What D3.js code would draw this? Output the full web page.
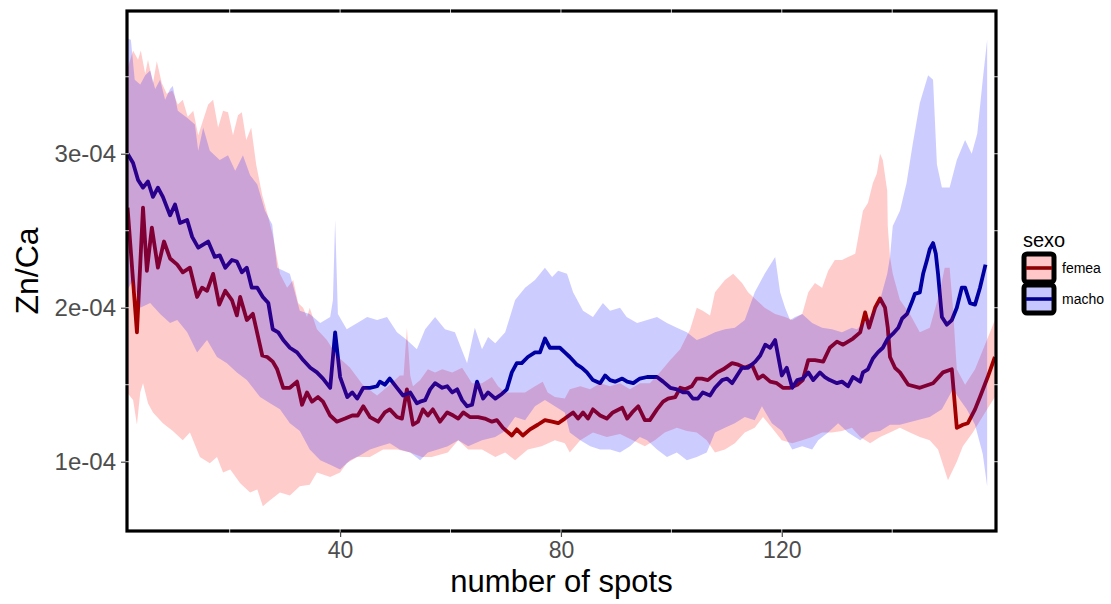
<!DOCTYPE html>
<html><head><meta charset="utf-8">
<script src="https://cdn.jsdelivr.net/npm/d3@7"></script>
<style>body{margin:0;background:#fff}text{font-family:"Liberation Sans",Arial,sans-serif}</style>
</head><body>
<svg id="c" width="1111" height="604"></svg>
<script>
// values in units of 1e-4 (Zn/Ca)
const UNIT = 1e-4;
const seriesNames = ["femea", "macho"];
const xTicks = [40, 80, 120];
const yTicks = [1, 2, 3];
const yTickLabels = ["1e-04", "2e-04", "3e-04"];

// mean lines
const femeaX = [1.5,3.2,4.3,5.0,5.9,7.0,8.1,9.2,10.5,11.5,12.8,14.1,15.0,15.9,17.0,18.1,19.2,20.4,21.3,21.9,23.1,24.2,25.9,26.8,27.8,28.6,29.7,30.9,32.2,33.1,34.0,34.9,36.0,36.9,38.2,39.4,40.9,42.2,43.2,44.2,45.4,46.9,48.1,49.0,50.3,51.2,52.1,53.2,54.1,55.0,55.9,56.8,58.1,59.4,60.5,61.4,62.3,63.5,65.0,66.2,67.5,68.4,69.5,71.1,72.0,73.1,74.4,75.8,77.1,78.4,79.5,80.7,82.2,83.1,84.0,84.9,85.8,87.1,88.3,89.4,91.1,92.0,92.9,94.0,95.2,96.1,97.4,98.5,99.4,100.7,101.6,102.5,103.7,104.6,105.5,106.6,108.3,109.4,111.0,112.1,113.3,114.6,115.7,116.6,117.9,119.1,120.2,121.5,122.8,123.8,124.8,126.0,127.5,128.7,130.0,131.1,132.0,132.9,134.2,135.1,135.8,136.9,137.8,138.7,139.2,139.6,140.5,141.4,142.9,145.0,147.4,149.2,150.8,151.7,152.8,153.7,155.0,155.9,157.3,158.6];
const femeaY = [2.65,1.84,2.65,2.24,2.52,2.26,2.43,2.32,2.28,2.23,2.26,2.07,2.13,2.11,2.22,2.02,2.11,2.05,1.95,2.07,1.92,1.96,1.69,1.68,1.65,1.60,1.48,1.48,1.52,1.37,1.45,1.39,1.42,1.39,1.30,1.26,1.28,1.30,1.30,1.36,1.29,1.26,1.32,1.34,1.29,1.28,1.47,1.24,1.26,1.34,1.30,1.34,1.26,1.32,1.30,1.28,1.32,1.29,1.29,1.28,1.26,1.27,1.22,1.17,1.21,1.17,1.21,1.24,1.27,1.26,1.25,1.28,1.32,1.28,1.32,1.28,1.34,1.30,1.28,1.32,1.35,1.28,1.32,1.36,1.27,1.27,1.34,1.39,1.41,1.42,1.48,1.47,1.49,1.54,1.54,1.53,1.58,1.60,1.64,1.63,1.61,1.63,1.54,1.56,1.52,1.51,1.48,1.48,1.50,1.53,1.66,1.66,1.65,1.74,1.78,1.76,1.78,1.80,1.84,1.97,1.87,2.00,2.06,2.00,1.87,1.68,1.61,1.58,1.50,1.48,1.51,1.58,1.60,1.22,1.24,1.25,1.34,1.42,1.55,1.68];

const machoX = [1.5,2.5,3.4,4.3,5.2,6.1,7.0,7.9,9.2,10.1,11.0,12.3,13.2,14.3,16.1,17.3,18.2,19.2,20.4,21.3,22.2,23.1,24.0,25.0,26.0,27.0,27.8,28.8,29.7,30.9,32.2,33.3,34.6,35.8,36.9,38.2,39.1,40.0,41.3,42.2,43.1,44.2,45.4,46.7,47.2,48.1,49.0,50.3,51.4,52.7,53.9,54.5,55.4,56.3,57.2,58.5,59.4,60.3,61.2,62.1,63.0,63.9,64.8,65.9,66.8,68.1,69.3,70.2,71.1,72.0,72.9,74.0,75.3,76.2,77.1,78.0,78.9,79.8,80.7,81.6,82.9,83.8,84.7,85.8,87.1,88.0,88.9,89.8,91.1,92.0,93.1,94.3,95.6,97.4,98.5,99.8,101.0,102.1,103.0,103.9,104.8,105.7,107.0,107.9,109.2,110.1,111.0,111.9,112.8,113.9,115.2,116.1,117.0,117.9,118.8,120.0,120.9,121.9,122.8,123.8,124.8,125.7,126.9,127.8,128.7,130.0,130.9,132.0,132.9,134.2,134.7,135.6,136.5,137.4,138.3,139.2,140.1,141.1,141.8,142.7,143.6,144.1,145.0,145.6,146.3,146.8,147.4,147.9,148.3,149.0,149.9,150.8,151.7,152.6,153.2,154.1,155.0,155.9,156.9];
const machoY = [3.00,2.94,2.83,2.78,2.82,2.72,2.78,2.72,2.60,2.67,2.55,2.57,2.46,2.39,2.43,2.33,2.34,2.26,2.31,2.30,2.23,2.26,2.13,2.13,2.07,2.03,1.86,1.84,1.79,1.74,1.71,1.66,1.61,1.58,1.54,1.48,1.84,1.55,1.42,1.45,1.41,1.48,1.48,1.49,1.52,1.50,1.54,1.48,1.43,1.45,1.38,1.39,1.40,1.47,1.51,1.48,1.49,1.45,1.47,1.40,1.36,1.37,1.52,1.41,1.45,1.41,1.44,1.47,1.58,1.64,1.64,1.68,1.71,1.71,1.80,1.74,1.74,1.74,1.71,1.68,1.63,1.61,1.58,1.53,1.51,1.56,1.53,1.52,1.54,1.52,1.51,1.54,1.55,1.55,1.52,1.48,1.47,1.45,1.45,1.41,1.41,1.45,1.43,1.48,1.53,1.54,1.51,1.56,1.61,1.61,1.65,1.69,1.76,1.74,1.79,1.56,1.61,1.48,1.53,1.54,1.58,1.53,1.58,1.55,1.53,1.51,1.52,1.49,1.55,1.52,1.58,1.60,1.67,1.71,1.74,1.80,1.83,1.87,1.93,1.96,2.04,2.09,2.10,2.22,2.31,2.38,2.42,2.35,2.22,1.94,1.89,1.92,2.00,2.13,2.13,2.03,2.02,2.13,2.28];

// ribbon bounds
const femeaUpX = [1.4,2.5,3.4,3.9,4.7,5.2,6.1,6.8,7.7,8.6,9.6,10.6,11.5,12.4,13.4,14.3,15.2,16.1,17.0,17.9,18.8,19.7,20.6,21.5,22.2,23.0,23.9,24.8,25.9,26.9,27.8,29.1,30.4,31.5,32.4,33.3,34.0,34.5,35.8,37.6,39.4,41.8,44.1,46.7,49.0,50.8,51.5,52.1,52.7,53.2,54.5,55.9,57.2,58.5,60.3,62.1,63.9,65.7,67.5,68.6,69.9,71.7,73.5,75.3,76.7,77.6,78.9,80.7,81.6,83.5,85.3,87.1,88.9,90.7,92.5,94.3,96.1,97.9,99.8,101.6,103.4,104.6,105.7,107.0,107.9,109.7,111.2,112.8,113.9,115.1,116.9,118.8,120.6,121.9,123.7,124.8,126.0,127.3,128.4,129.6,130.9,132.0,133.3,134.7,135.6,136.5,137.2,137.8,138.3,139.1,139.2,139.6,140.1,141.4,143.2,145.0,146.8,148.6,149.5,150.4,151.0,151.7,153.2,155.0,156.8,158.6];
const femeaUpY = [3.54,3.67,3.61,3.67,3.52,3.61,3.46,3.60,3.46,3.39,3.41,3.32,3.35,3.24,3.28,3.12,3.22,3.32,3.35,3.17,3.28,3.27,3.12,3.25,3.27,3.09,3.17,2.93,2.73,2.60,2.47,2.22,2.13,2.18,2.03,2.00,1.94,2.00,1.86,1.79,1.69,1.61,1.50,1.43,1.50,1.56,1.56,1.87,1.56,1.49,1.53,1.60,1.58,1.60,1.58,1.61,1.51,1.51,1.55,1.49,1.45,1.45,1.45,1.49,1.52,1.45,1.42,1.41,1.47,1.49,1.47,1.51,1.49,1.51,1.47,1.51,1.51,1.58,1.66,1.73,1.86,2.00,1.98,1.95,2.10,2.18,2.22,2.16,2.10,2.06,2.00,1.96,1.94,1.92,1.96,2.10,2.16,2.13,2.24,2.31,2.31,2.33,2.35,2.63,2.68,2.81,2.87,3.00,2.96,2.76,2.53,2.33,2.22,2.05,1.96,1.84,1.87,2.10,2.26,2.26,2.00,1.60,1.50,1.60,1.76,1.92];
const femeaLoX = [1.4,2.5,3.2,3.8,4.3,5.2,6.1,7.9,9.7,11.5,12.8,14.6,16.4,17.7,18.8,20.1,21.9,23.7,25.0,26.0,27.3,29.1,30.9,32.7,34.5,35.8,38.2,40.0,41.2,43.1,45.4,47.8,50.3,52.7,54.8,56.6,59.5,61.4,63.2,65.7,68.1,69.9,71.7,74.0,76.5,78.9,80.7,81.6,83.5,85.8,88.3,90.7,93.0,95.2,97.0,98.8,101.0,102.8,104.6,106.4,107.9,109.7,111.5,113.3,115.1,116.6,118.2,120.0,121.9,123.7,125.5,127.3,129.1,130.9,132.7,134.2,136.0,137.8,139.6,141.4,143.2,145.0,146.8,148.3,150.1,151.7,152.8,154.6,157.2,158.6];
const femeaLoY = [1.45,1.40,1.24,1.45,1.51,1.38,1.32,1.25,1.20,1.14,1.19,1.03,0.99,1.03,0.93,0.95,0.86,0.80,0.82,0.71,0.75,0.80,0.78,0.84,0.85,0.93,0.90,0.93,0.99,1.03,1.03,1.08,1.08,1.06,1.03,1.03,1.06,1.14,1.08,1.08,1.03,1.06,1.01,1.08,1.10,1.14,1.12,1.06,1.14,1.19,1.16,1.18,1.14,1.10,1.14,1.19,1.22,1.20,1.19,1.14,1.06,1.08,1.12,1.19,1.22,1.29,1.22,1.14,1.12,1.14,1.16,1.19,1.19,1.20,1.22,1.16,1.12,1.16,1.19,1.22,1.19,1.16,1.14,1.08,0.88,1.00,1.10,1.19,1.34,1.42];

const machoUpX = [1.4,2.1,2.8,3.8,4.7,5.6,6.5,7.4,8.3,9.2,9.7,10.6,12.4,13.7,14.3,15.2,16.4,18.2,19.7,21.0,22.4,23.7,25.0,26.4,27.7,28.6,30.9,32.7,34.5,36.4,38.2,38.7,39.1,39.6,41.2,43.1,44.9,46.7,48.5,50.3,52.1,53.9,55.4,57.2,59.0,60.8,63.0,64.4,65.7,66.8,68.1,69.9,71.7,73.5,75.3,77.1,78.4,79.5,81.1,82.2,84.0,85.8,87.6,88.9,90.7,91.9,93.8,95.6,97.4,99.2,101.0,102.8,104.6,106.1,107.9,109.7,111.5,113.3,115.1,116.9,118.8,119.7,120.6,121.5,122.4,123.7,125.5,127.3,129.1,130.9,132.7,133.6,136.0,137.8,139.1,139.6,140.1,141.4,142.6,143.7,145.0,146.5,147.4,148.1,149.0,150.4,151.7,153.2,154.4,155.4,156.4,157.2];
const machoUpY = [3.75,3.74,3.48,3.45,3.51,3.54,3.42,3.48,3.35,3.42,3.44,3.28,3.23,3.19,3.02,3.17,3.02,2.96,2.99,2.89,2.99,2.86,2.80,2.63,2.54,2.26,2.22,1.98,1.96,1.90,1.94,2.05,2.57,1.96,1.86,1.90,1.94,1.92,1.94,1.84,1.79,1.73,1.86,1.94,1.86,1.84,1.64,1.87,1.73,1.81,1.77,1.84,2.05,2.13,2.18,2.26,2.20,2.24,2.22,2.10,1.98,1.94,2.03,1.98,2.00,1.94,1.90,1.92,1.94,1.90,1.87,1.84,1.79,1.81,1.84,1.86,1.87,1.92,2.10,2.22,2.33,2.10,2.00,1.92,1.94,1.96,1.90,1.87,1.86,1.84,1.87,1.86,1.94,2.05,2.22,2.33,2.53,2.63,2.81,3.06,3.33,3.51,3.48,2.93,2.78,2.78,2.96,3.09,3.00,3.13,3.48,3.74];
const machoLoX = [1.4,2.5,3.8,5.6,7.4,9.2,10.5,12.3,14.1,15.9,17.7,19.5,21.3,23.1,25.5,27.3,29.1,30.9,32.7,34.5,36.4,38.2,40.0,41.8,43.6,45.4,47.2,49.0,50.8,52.7,54.5,55.9,57.7,59.5,61.4,63.2,65.7,68.1,69.9,71.7,73.5,75.3,77.1,78.9,80.7,81.6,83.5,85.3,87.1,88.9,90.7,92.5,94.3,95.6,97.4,99.2,101.0,102.8,104.6,106.4,107.9,109.7,111.5,113.3,115.1,116.4,118.2,120.0,121.9,123.7,125.5,126.6,128.4,130.2,132.0,134.2,136.0,137.8,139.6,141.4,144.5,146.8,149.0,151.0,152.3,153.5,155.0,156.4,157.2];
const machoLoY = [2.11,2.18,2.00,2.03,1.96,1.90,1.92,1.84,1.71,1.79,1.68,1.64,1.58,1.53,1.42,1.38,1.34,1.25,1.20,1.08,1.01,0.98,0.95,1.01,1.04,1.08,1.10,1.12,1.08,1.06,1.01,1.06,1.08,1.10,1.14,1.10,1.14,1.16,1.20,1.29,1.27,1.36,1.40,1.36,1.32,1.19,1.14,1.10,1.08,1.08,1.06,1.10,1.16,1.14,1.08,1.03,1.06,1.01,1.03,1.06,1.19,1.22,1.25,1.29,1.27,1.36,1.25,1.20,1.08,1.10,1.08,1.14,1.19,1.25,1.19,1.14,1.19,1.20,1.24,1.24,1.27,1.29,1.34,1.47,1.40,1.34,1.24,1.05,0.84];

const lineColors = {femea: "#8B0000", macho: "#00008B"};
const fillColors = {femea: "#FF0000", macho: "#0000FF"};

const svg = d3.select("#c");
const L = 127, R = 996, T = 11, B = 531;
const x = d3.scaleLinear().domain([1.4, 158.8]).range([L, R]);
const y = d3.scaleLinear().domain([0.55 * UNIT, 3.927 * UNIT]).range([B, T]);

svg.append("defs").append("clipPath").attr("id", "clip")
  .append("rect").attr("x", L).attr("y", T).attr("width", R - L).attr("height", B - T);

const pts = (xs, ys) => xs.map((v, i) => [v, ys[i] * UNIT]);
const line = d3.line().x(d => x(d[0])).y(d => y(d[1]));

const series = {
  femea: {line: pts(femeaX, femeaY), up: pts(femeaUpX, femeaUpY), lo: pts(femeaLoX, femeaLoY)},
  macho: {line: pts(machoX, machoY), up: pts(machoUpX, machoUpY), lo: pts(machoLoX, machoLoY)}
};

const g = svg.append("g").attr("clip-path", "url(#clip)");
// lines first, ribbons (translucent) over them
seriesNames.forEach(s => {
  g.append("path").attr("d", line(series[s].line)).attr("fill", "none")
    .attr("stroke", lineColors[s]).attr("stroke-width", 3.8).attr("stroke-linejoin", "round");
});
seriesNames.forEach(s => {
  const poly = series[s].up.concat(series[s].lo.slice().reverse());
  g.append("path").attr("d", line(poly) + "Z").attr("fill", fillColors[s]).attr("fill-opacity", 0.2);
});

// panel border
svg.append("rect").attr("x", L).attr("y", T).attr("width", R - L).attr("height", B - T)
  .attr("fill", "none").attr("stroke", "#000").attr("stroke-width", 3.2);

// faint grid notches on border
const gx = [20, 40, 60, 80, 100, 120, 140];
const gy = [1, 1.5, 2, 2.5, 3, 3.5];
gx.forEach(v => {
  [T, B].forEach(yy => svg.append("line").attr("x1", x(v)).attr("x2", x(v)).attr("y1", yy - 2).attr("y2", yy + 2)
    .attr("stroke", "#fff").attr("stroke-width", 1).attr("opacity", 0.8));
});
gy.forEach(v => {
  [L, R].forEach(xx => svg.append("line").attr("y1", y(v * UNIT)).attr("y2", y(v * UNIT)).attr("x1", xx - 2).attr("x2", xx + 2)
    .attr("stroke", "#fff").attr("stroke-width", 1).attr("opacity", 0.8));
});

// axes
const xAxis = d3.axisBottom(x).tickValues(xTicks).tickSize(5).tickPadding(5);
const xg = svg.append("g").attr("transform", `translate(0,${B + 1})`).call(xAxis);
xg.select(".domain").remove();
xg.selectAll(".tick line").attr("stroke", "#4d4d4d").attr("stroke-width", 1.2);
xg.selectAll(".tick text").attr("fill", "#4d4d4d").attr("font-size", 23)
  .attr("font-family", "'Liberation Sans', Arial, sans-serif");

const yAxis = d3.axisLeft(y).tickValues(yTicks.map(v => v * UNIT)).tickSize(5).tickPadding(5)
  .tickFormat((d, i) => yTickLabels[i]);
const yg = svg.append("g").attr("transform", `translate(${L - 1},0)`).call(yAxis);
yg.select(".domain").remove();
yg.selectAll(".tick line").attr("stroke", "#4d4d4d").attr("stroke-width", 1.2);
yg.selectAll(".tick text").attr("fill", "#4d4d4d").attr("font-size", 24)
  .attr("font-family", "'Liberation Sans', Arial, sans-serif");

// titles
svg.append("text").attr("x", (L + R) / 2).attr("y", 592).attr("text-anchor", "middle")
  .attr("font-size", 31).attr("fill", "#000").text("number of spots");
svg.append("text").attr("transform", `translate(38,${(T + B) / 2}) rotate(-90)`).attr("text-anchor", "middle")
  .attr("font-size", 32).attr("fill", "#000").text("Zn/Ca");

// legend
svg.append("text").attr("x", 1023).attr("y", 247).attr("font-size", 20).attr("fill", "#000").text("sexo");
seriesNames.forEach((s, i) => {
  const ky = 253 + i * 31;
  svg.append("rect").attr("x", 1024).attr("y", ky + 1).attr("width", 30).attr("height", 28).attr("rx", 3)
    .attr("fill", fillColors[s]).attr("fill-opacity", 0.22).attr("stroke", "#000").attr("stroke-width", 5);
  svg.append("line").attr("x1", 1026).attr("x2", 1052).attr("y1", ky + 15).attr("y2", ky + 15)
    .attr("stroke", lineColors[s]).attr("stroke-width", 3.6);
  svg.append("text").attr("x", 1062).attr("y", ky + 15).attr("dy", "0.35em").attr("font-size", 14)
    .attr("fill", "#000").text(s);
});
</script>
</body></html>
